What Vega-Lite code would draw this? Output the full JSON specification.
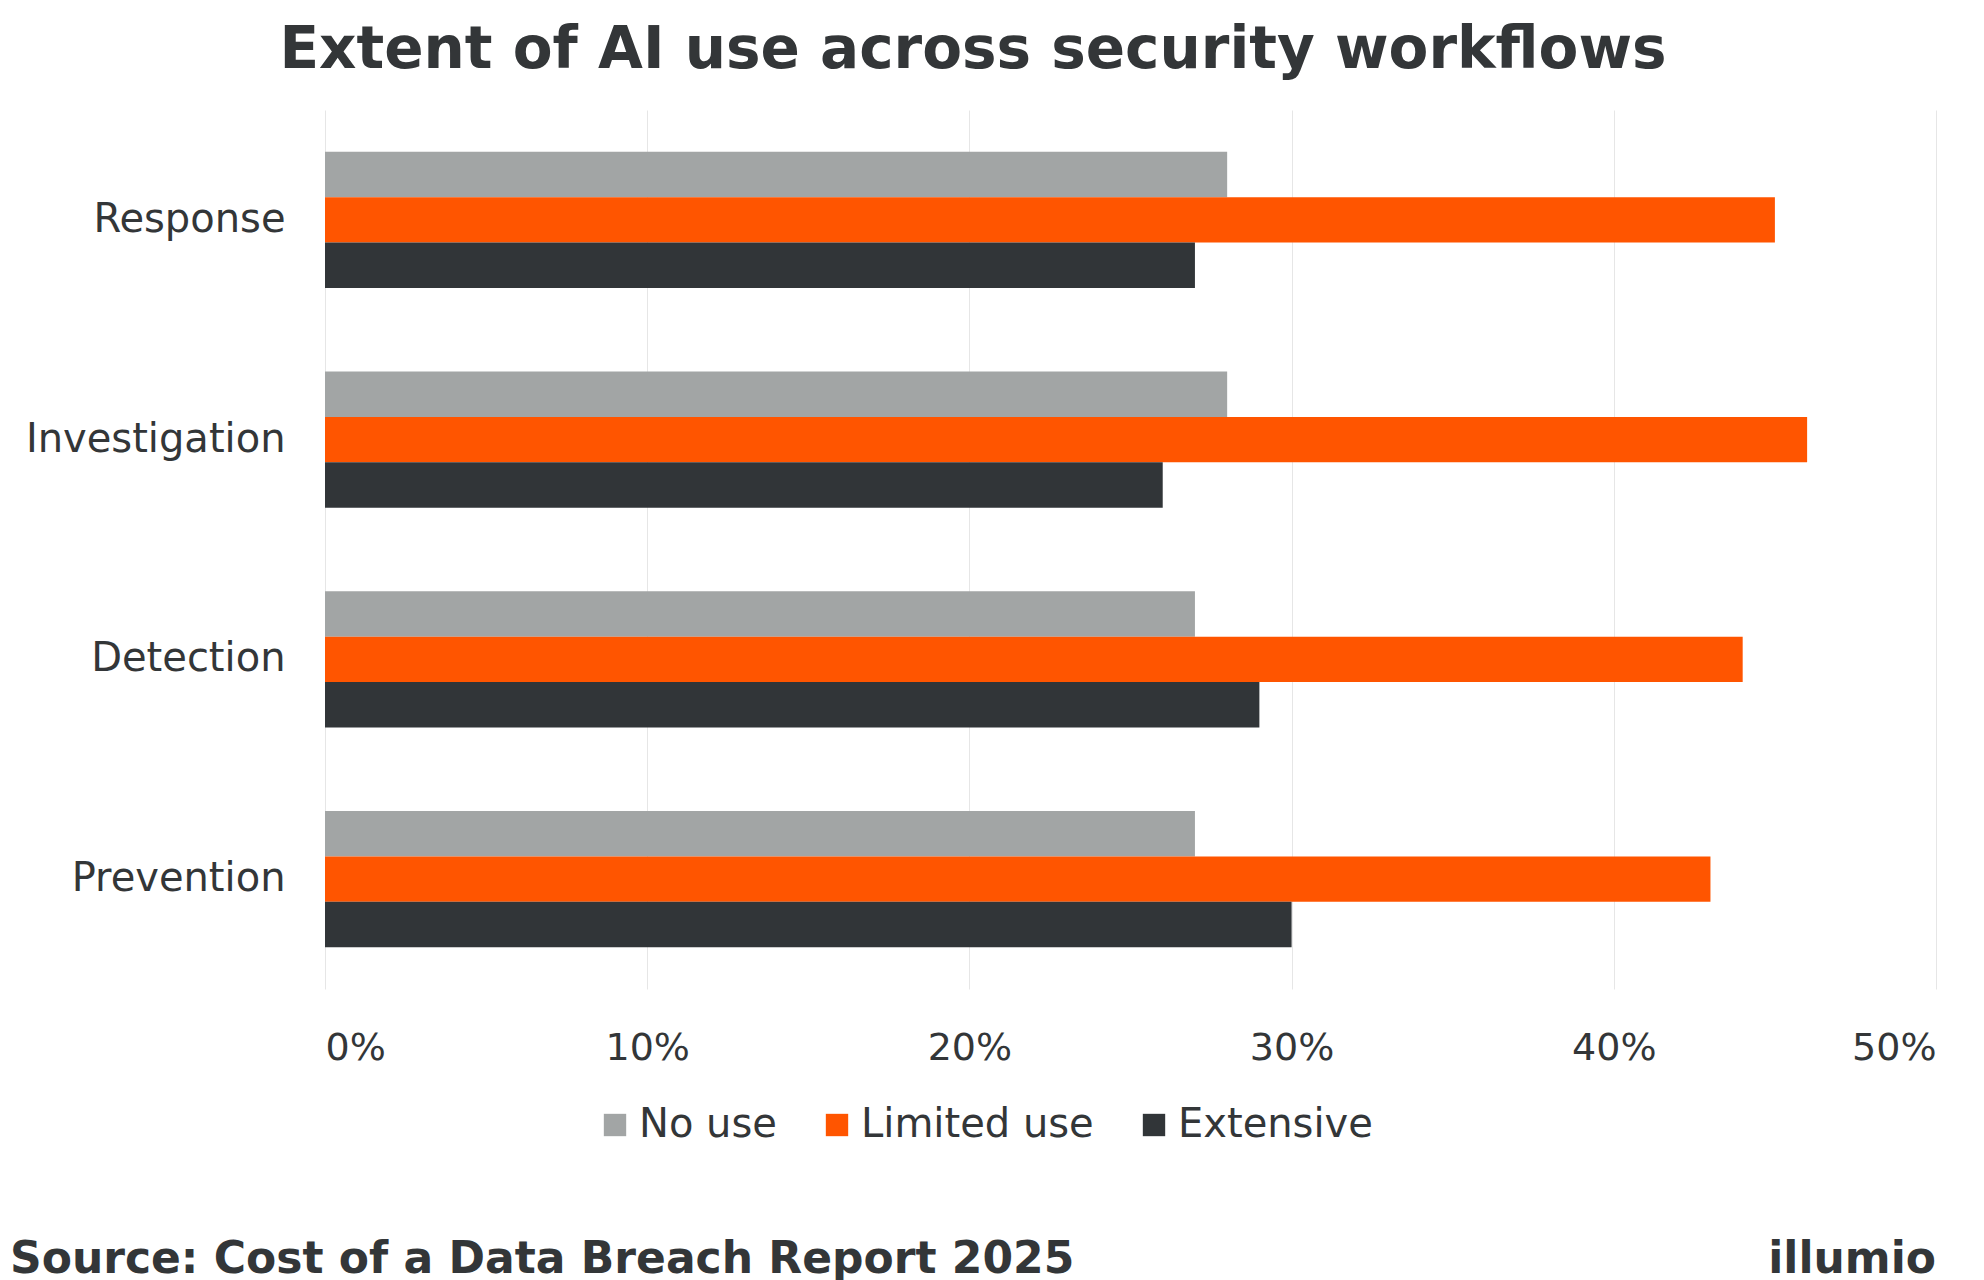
{
  "$schema": "https://vega.github.io/schema/vega-lite/v6.json",
  "background": "white",
  "padding": {"left": 10, "right": 40, "top": 22, "bottom": 5},
  "title": {"text": "Extent of AI use across security workflows", "fontSize": 58, "font": "DejaVu Sans", "fontWeight": "bold", "color": "#333638", "anchor": "middle", "offset": 30},
  "spacing": 90,
  "resolve": {"legend": {"color": "independent"}},
  "vconcat": [
    {
      "width": 1611,
      "height": 879,
      "data": {"values": [
        {"workflow": "Response", "use": "No use", "pct": 28},
        {"workflow": "Response", "use": "Limited use", "pct": 45},
        {"workflow": "Response", "use": "Extensive", "pct": 27},
        {"workflow": "Investigation", "use": "No use", "pct": 28},
        {"workflow": "Investigation", "use": "Limited use", "pct": 46},
        {"workflow": "Investigation", "use": "Extensive", "pct": 26},
        {"workflow": "Detection", "use": "No use", "pct": 27},
        {"workflow": "Detection", "use": "Limited use", "pct": 44},
        {"workflow": "Detection", "use": "Extensive", "pct": 29},
        {"workflow": "Prevention", "use": "No use", "pct": 27},
        {"workflow": "Prevention", "use": "Limited use", "pct": 43},
        {"workflow": "Prevention", "use": "Extensive", "pct": 30}
      ]},
      "transform": [{"calculate": "datum.pct / 100", "as": "share"}],
      "mark": {"type": "bar"},
      "encoding": {
        "y": {"field": "workflow", "type": "nominal", "sort": ["Response", "Investigation", "Detection", "Prevention"],
              "scale": {"paddingInner": 0.38, "paddingOuter": 0.19},
              "axis": {"title": null, "ticks": false, "domain": false, "labelLimit": 0, "labelFontSize": 40, "labelFont": "DejaVu Sans", "labelColor": "#333638", "labelPadding": 40}},
        "yOffset": {"field": "use", "type": "nominal", "sort": ["No use", "Limited use", "Extensive"], "scale": {"paddingInner": 0}},
        "x": {"field": "share", "type": "quantitative", "scale": {"domain": [0, 0.5]},
              "axis": {"title": null, "format": "%", "tickCount": 5, "ticks": false, "domain": false, "gridColor": "#e6e6e6", "labelFontSize": 38, "labelFont": "DejaVu Sans", "labelColor": "#333638", "labelPadding": 40}},
        "color": {"field": "use", "type": "nominal", "sort": ["No use", "Limited use", "Extensive"],
                  "scale": {"domain": ["No use", "Limited use", "Extensive"], "range": ["#a2a5a5", "#ff5500", "#313538"]},
                  "legend": {"title": null, "orient": "none", "legendX": 270, "legendY": 995, "direction": "horizontal", "symbolType": "square", "symbolSize": 500, "labelFontSize": 40, "labelLimit": 0, "labelFont": "DejaVu Sans", "labelColor": "#333638", "columnPadding": 40}}
      }
    },
    {
      "width": 1611,
      "height": 50,
      "data": {"values": [{"source": "Source: Cost of a Data Breach Report 2025", "brand": "illumio"}]},
      "layer": [
        {"mark": {"type": "text", "align": "left", "baseline": "middle", "fontSize": 44, "font": "DejaVu Sans", "fontWeight": "bold", "color": "#333638", "dx": -315},
         "encoding": {"text": {"field": "source"}, "x": {"value": 0}, "y": {"value": 25}}},
        {"mark": {"type": "text", "align": "right", "baseline": "middle", "fontSize": 44, "font": "DejaVu Sans", "fontWeight": "bold", "color": "#333638"},
         "encoding": {"text": {"field": "brand"}, "x": {"value": 1611}, "y": {"value": 25}}}
      ]
    }
  ],
  "config": {"view": {"stroke": null}}
}
